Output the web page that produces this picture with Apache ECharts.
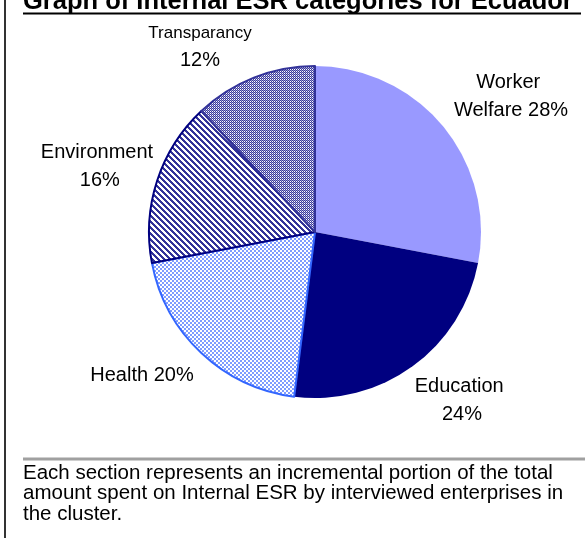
<!DOCTYPE html>
<html>
<head>
    <meta charset="utf-8">
    <style>
        html, body {
            height: 100%;
            margin: 0;
            padding: 0;
            background: #ffffff;
        }

        .container {
            width: 585px;
            height: 538px;
        }
    </style>
</head>
<body>
<div id="main" class="container"></div>

<script src="https://cdn.jsdelivr.net/npm/echarts@6/dist/echarts.min.js"></script>
<script type="text/javascript">
var categories = ['Worker Welfare', 'Education', 'Health', 'Environment', 'Transparancy'];
var values = [28, 24, 20, 16, 12];
var titleText = 'Graph of Internal ESR categories for Ecuador';
var noteLines = [
    'Each section represents an incremental portion of the total',
    'amount spent on Internal ESR by interviewed enterprises in',
    'the cluster.'
];

// where each label block sits (its centre), and its wrap width
var labelPos = [[511, 96], [462, 400], [142, 375], [97, 166], [200, 47]];
var labelWidth = [125, 100, 120, 115, 120];
var fontName = '"Liberation Sans", Arial, sans-serif';

// small tiles for the hatched slices
function makeTile(size, draw) {
    var c = document.createElement('canvas');
    c.width = size;
    c.height = size;
    var ctx = c.getContext('2d');
    ctx.fillStyle = '#ffffff';
    ctx.fillRect(0, 0, size, size);
    draw(ctx, size);
    return c;
}

var healthTile = makeTile(4, function (ctx) {
    ctx.fillStyle = '#7f9cff';
    ctx.fillRect(0, 0, 2, 2);
    ctx.fillRect(2, 2, 2, 2);
});

var envTile = makeTile(6, function (ctx, n) {
    ctx.fillStyle = '#333399';
    for (var y = 0; y < n; y++) {
        for (var x = 0; x < n; x++) {
            if ((x - y + n) % n < 3) ctx.fillRect(x, y, 1, 1);
        }
    }
});

var transTile = makeTile(2, function (ctx) {
    ctx.fillStyle = '#3a3a9c';
    ctx.fillRect(0, 0, 1, 1);
    ctx.fillRect(1, 1, 1, 1);
    ctx.fillStyle = '#9a9ad0';
    ctx.fillRect(1, 0, 1, 1);
});

var sliceStyles = [
    {color: '#9999ff', borderWidth: 0},
    {color: '#000080', borderWidth: 0},
    {color: {image: healthTile, repeat: 'repeat'}, borderColor: '#3366ff', borderWidth: 2},
    {color: {image: envTile, repeat: 'repeat'}, borderColor: '#000080', borderWidth: 2},
    {color: {image: transTile, repeat: 'repeat'}, borderColor: '#333399', borderWidth: 2}
];

var myChart = echarts.init(document.getElementById('main'), null, {renderer: 'canvas'});

var pieData = categories.map(function (name, i) {
    return {
        name: name,
        value: values[i],
        itemStyle: sliceStyles[i],
        label: {width: labelWidth[i]}
    };
});

var option = {
    animation: false,
    backgroundColor: '#ffffff',
    graphic: [
        {
            type: 'line',
            shape: {x1: 5, y1: 0, x2: 5, y2: 538},
            style: {stroke: '#333333', lineWidth: 2}
        },
        {
            type: 'text',
            style: {
                text: titleText,
                x: 23,
                y: 15,
                verticalAlign: 'bottom',
                font: 'bold 25.5px ' + fontName,
                fill: '#000000'
            }
        },
        {
            type: 'line',
            shape: {x1: 23, y1: 13.5, x2: 581, y2: 13.5},
            style: {stroke: '#000000', lineWidth: 2}
        },
        {
            type: 'line',
            shape: {x1: 23, y1: 459, x2: 585, y2: 459},
            style: {stroke: '#a0a0a0', lineWidth: 3}
        },
        {
            type: 'text',
            style: {
                text: noteLines.join('\n'),
                x: 23,
                y: 463,
                font: '20.5px ' + fontName,
                lineHeight: 20.5,
                fill: '#000000'
            }
        }
    ],
    series: [
        {
            type: 'pie',
            center: [315, 232],
            radius: 166,
            startAngle: 90,
            clockwise: true,
            avoidLabelOverlap: false,
            silent: true,
            data: pieData,
            label: {
                show: true,
                position: 'outside',
                alignTo: 'none',
                overflow: 'break',
                color: '#000000',
                fontFamily: fontName,
                fontSize: 20,
                lineHeight: 28,
                align: 'center',
                formatter: function (p) {
                    if (p.dataIndex === 4) {
                        return '{s|' + p.name + '}\n' + p.percent + '%';
                    }
                    return p.name + ' ' + p.percent + '%';
                },
                rich: {
                    s: {fontSize: 17, fontFamily: fontName, color: '#000000', lineHeight: 26}
                }
            },
            labelLine: {show: false},
            labelLayout: function (params) {
                var p = labelPos[params.dataIndex];
                return {x: p[0], y: p[1], align: 'center', verticalAlign: 'middle'};
            }
        }
    ]
};

myChart.setOption(option);
</script>
</body>
</html>
